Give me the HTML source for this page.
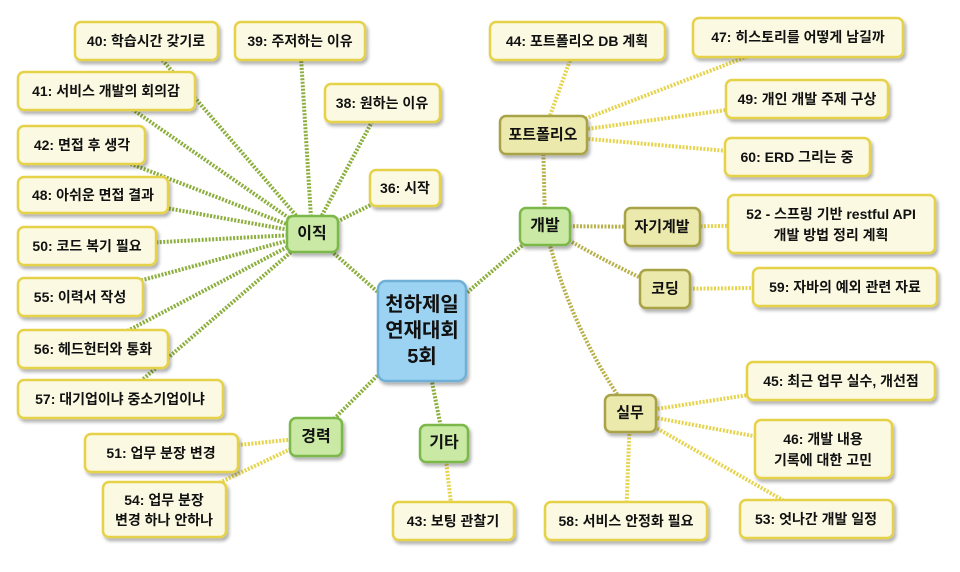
<!DOCTYPE html>
<html><head><meta charset="utf-8"><style>
body{margin:0;background:#fff;}
svg text{font-family:"Liberation Sans","Noto Sans CJK KR",sans-serif;font-weight:bold;fill:#111;text-anchor:middle;dominant-baseline:central;}
</style></head><body>
<svg width="960" height="567" viewBox="0 0 960 567" xmlns="http://www.w3.org/2000/svg">
<defs><filter id="sh" x="-20%" y="-20%" width="150%" height="160%"><feDropShadow dx="2" dy="3" stdDeviation="1.5" flood-color="#000" flood-opacity="0.3"/></filter></defs>
<g fill="none" stroke-width="4" stroke-dasharray="2 1.5">
<g stroke="#8cae3c">
<line x1="422" y1="331" x2="312" y2="234"/>
<line x1="422" y1="331" x2="545" y2="226"/>
<line x1="422" y1="331" x2="316" y2="437"/>
<line x1="422" y1="331" x2="444" y2="443"/>
<line x1="312" y1="234" x2="146" y2="41"/>
<line x1="312" y1="234" x2="300" y2="41"/>
<line x1="312" y1="234" x2="106" y2="91"/>
<line x1="312" y1="234" x2="382" y2="103"/>
<line x1="312" y1="234" x2="82" y2="145"/>
<line x1="312" y1="234" x2="405" y2="188"/>
<line x1="312" y1="234" x2="93" y2="195"/>
<line x1="312" y1="234" x2="87" y2="246"/>
<line x1="312" y1="234" x2="80" y2="297"/>
<line x1="312" y1="234" x2="93" y2="349"/>
<line x1="312" y1="234" x2="120" y2="399"/>
</g>
<g stroke="#b8b14a">
<line x1="545" y1="226" x2="543" y2="135"/>
<line x1="545" y1="226" x2="662" y2="227"/>
<path d="M545 226 Q600 260 665 289"/>
<path d="M545 226 Q570 330 630 413"/>
</g>
<g stroke="#e5d44c">
<line x1="543" y1="135" x2="577" y2="41"/>
<line x1="543" y1="135" x2="798" y2="37"/>
<line x1="543" y1="135" x2="807" y2="99"/>
<line x1="543" y1="135" x2="797" y2="157"/>
<line x1="662" y1="227" x2="830" y2="224"/>
<line x1="665" y1="289" x2="845" y2="287"/>
<line x1="630" y1="413" x2="840" y2="381"/>
<line x1="630" y1="413" x2="823" y2="449"/>
<line x1="630" y1="413" x2="816" y2="519"/>
<line x1="630" y1="413" x2="626" y2="521"/>
<line x1="316" y1="437" x2="161" y2="453"/>
<line x1="316" y1="437" x2="164" y2="509"/>
<line x1="444" y1="443" x2="453" y2="521"/>
</g>
</g>
<rect x="378" y="281" width="88" height="100" rx="8" fill="#9dd3f2" stroke="#6fb0d6" stroke-width="2.5" filter="url(#sh)"/>
<text x="422" y="305" font-size="20">천하제일</text>
<text x="422" y="331" font-size="20">연재대회</text>
<text x="422" y="357" font-size="20">5회</text>
<g fill="#c9e9a4" stroke="#7cb84a" stroke-width="2.5" filter="url(#sh)">
<rect x="287" y="216" width="51" height="36" rx="6"/>
<rect x="520" y="208" width="50" height="37" rx="6"/>
<rect x="290" y="418" width="52" height="38" rx="6"/>
<rect x="420" y="425" width="48" height="37" rx="6"/>
</g>
<g font-size="16"><text x="312" y="234">이직</text><text x="545" y="226">개발</text><text x="316" y="437">경력</text><text x="444" y="443">기타</text></g>
<g fill="#ebe9ab" stroke="#a9a347" stroke-width="2.5" filter="url(#sh)">
<rect x="500" y="116" width="87" height="38" rx="6"/>
<rect x="625" y="208" width="75" height="38" rx="6"/>
<rect x="640" y="270" width="50" height="38" rx="6"/>
<rect x="605" y="395" width="51" height="37" rx="6"/>
</g>
<g font-size="15"><text x="543" y="135">포트폴리오</text><text x="662" y="227">자기계발</text><text x="665" y="289">코딩</text><text x="630" y="413">실무</text></g>
<g fill="#fbf9e2" stroke="#e6d24a" stroke-width="2.5" filter="url(#sh)">
<rect x="75" y="22" width="143" height="38" rx="6"/>
<rect x="235" y="22" width="130" height="38" rx="6"/>
<rect x="18" y="72" width="177" height="38" rx="6"/>
<rect x="325" y="84" width="115" height="38" rx="6"/>
<rect x="18" y="126" width="127" height="38" rx="6"/>
<rect x="370" y="170" width="70" height="36" rx="6"/>
<rect x="18" y="177" width="150" height="36" rx="6"/>
<rect x="18" y="227" width="138" height="38" rx="6"/>
<rect x="18" y="278" width="125" height="38" rx="6"/>
<rect x="18" y="330" width="150" height="38" rx="6"/>
<rect x="18" y="380" width="205" height="38" rx="6"/>
<rect x="85" y="434" width="153" height="38" rx="6"/>
<rect x="103" y="482" width="123" height="55" rx="6"/>
<rect x="393" y="502" width="121" height="38" rx="6"/>
<rect x="490" y="22" width="175" height="38" rx="6"/>
<rect x="693" y="18" width="210" height="39" rx="6"/>
<rect x="726" y="80" width="162" height="38" rx="6"/>
<rect x="725" y="138" width="145" height="38" rx="6"/>
<rect x="728" y="195" width="207" height="58" rx="6"/>
<rect x="753" y="268" width="184" height="38" rx="6"/>
<rect x="747" y="362" width="188" height="38" rx="6"/>
<rect x="755" y="420" width="137" height="58" rx="6"/>
<rect x="740" y="500" width="153" height="38" rx="6"/>
<rect x="545" y="502" width="162" height="38" rx="6"/>
</g>
<g font-size="14">
<text x="146" y="41">40: 학습시간 갖기로</text>
<text x="300" y="41">39: 주저하는 이유</text>
<text x="106" y="91">41: 서비스 개발의 회의감</text>
<text x="382" y="103">38: 원하는 이유</text>
<text x="82" y="145">42: 면접 후 생각</text>
<text x="405" y="188">36: 시작</text>
<text x="93" y="195">48: 아쉬운 면접 결과</text>
<text x="87" y="246">50: 코드 복기 필요</text>
<text x="80" y="297">55: 이력서 작성</text>
<text x="93" y="349">56: 헤드헌터와 통화</text>
<text x="120" y="399">57: 대기업이냐 중소기업이냐</text>
<text x="161" y="453">51: 업무 분장 변경</text>
<text x="164" y="500">54: 업무 분장</text>
<text x="164" y="520">변경 하나 안하나</text>
<text x="453" y="521">43: 보팅 관찰기</text>
<text x="577" y="41">44: 포트폴리오 DB 계획</text>
<text x="798" y="37">47: 히스토리를 어떻게 남길까</text>
<text x="807" y="99">49: 개인 개발 주제 구상</text>
<text x="797" y="157">60: ERD 그리는 중</text>
<text x="831" y="214">52 - 스프링 기반 restful API</text>
<text x="831" y="235">개발 방법 정리 계획</text>
<text x="845" y="287">59: 자바의 예외 관련 자료</text>
<text x="841" y="381">45: 최근 업무 실수, 개선점</text>
<text x="823" y="439">46: 개발 내용</text>
<text x="823" y="460">기록에 대한 고민</text>
<text x="816" y="519">53: 엇나간 개발 일정</text>
<text x="626" y="521">58: 서비스 안정화 필요</text>
</g>
</svg>
</body></html>
